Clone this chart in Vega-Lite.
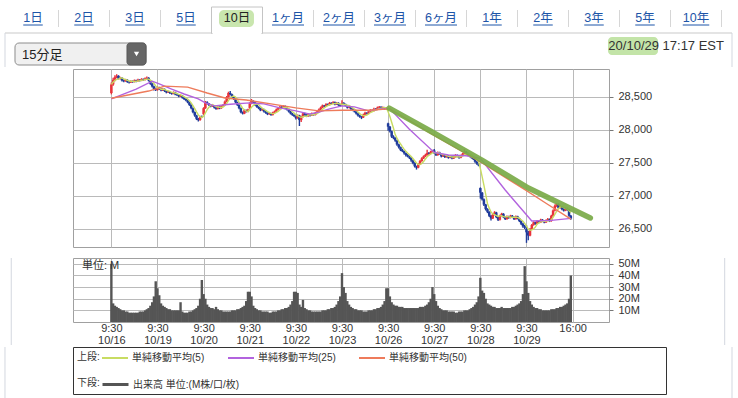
{
"$schema": "https://vega.github.io/schema/vega-lite/v6.json",
"padding": {"left": 3, "top": 0, "right": 5, "bottom": 0},
"background": "white",
"spacing": 0,
"bounds": "full",
"config": {
 "font": "Liberation Sans, Noto Sans CJK JP",
 "view": {"stroke": "#a0a0a0"},
 "axis": {"labelFontSize": 11, "labelColor": "#333333", "gridColor": "#bababa", "tickColor": "#777777", "domain": false}
},
"resolve": {"scale": {"x": "independent", "y": "independent", "color": "independent", "stroke": "independent"}},
"datasets": {
"tabs": [{"tab":"1日","i":0},{"tab":"2日","i":1},{"tab":"3日","i":2},{"tab":"5日","i":3},{"tab":"10日","i":4},{"tab":"1ヶ月","i":5},{"tab":"2ヶ月","i":6},{"tab":"3ヶ月","i":7},{"tab":"6ヶ月","i":8},{"tab":"1年","i":9},{"tab":"2年","i":10},{"tab":"3年","i":11},{"tab":"5年","i":12},{"tab":"10年","i":13}],
"k": [
{"i":0,"o":28560,"h":28720,"l":28540,"c":28690,"v":50},{"i":1,"o":28690,"h":28790,"l":28670,"c":28760,"v":16},{"i":2,"o":28760,"h":28830,"l":28740,"c":28800,"v":14},{"i":3,"o":28800,"h":28845,"l":28785,"c":28820,"v":13},{"i":4,"o":28820,"h":28830,"l":28765,"c":28780,"v":12},{"i":5,"o":28780,"h":28805,"l":28765,"c":28790,"v":11},{"i":6,"o":28790,"h":28800,"l":28735,"c":28750,"v":10},{"i":7,"o":28750,"h":28765,"l":28725,"c":28740,"v":10},{"i":8,"o":28740,"h":28775,"l":28730,"c":28760,"v":9},{"i":9,"o":28760,"h":28770,"l":28715,"c":28730,"v":9},{"i":10,"o":28730,"h":28745,"l":28705,"c":28720,"v":8},{"i":11,"o":28720,"h":28755,"l":28710,"c":28740,"v":8},{"i":12,"o":28740,"h":28750,"l":28715,"c":28730,"v":8},{"i":13,"o":28730,"h":28765,"l":28720,"c":28750,"v":8},{"i":14,"o":28750,"h":28760,"l":28725,"c":28740,"v":8},{"i":15,"o":28740,"h":28775,"l":28730,"c":28760,"v":8},{"i":16,"o":28760,"h":28770,"l":28735,"c":28750,"v":9},{"i":17,"o":28750,"h":28785,"l":28740,"c":28770,"v":9},{"i":18,"o":28770,"h":28780,"l":28745,"c":28760,"v":9},{"i":19,"o":28760,"h":28795,"l":28750,"c":28780,"v":10},{"i":20,"o":28780,"h":28810,"l":28770,"c":28790,"v":11},{"i":21,"o":28790,"h":28800,"l":28735,"c":28750,"v":12},{"i":22,"o":28750,"h":28760,"l":28685,"c":28700,"v":14},{"i":23,"o":28700,"h":28710,"l":28645,"c":28660,"v":17},{"i":24,"o":28660,"h":28670,"l":28600,"c":28620,"v":22},{"i":25,"o":28620,"h":28640,"l":28590,"c":28606,"v":35},
{"i":26,"o":28610,"h":28660,"l":28595,"c":28640,"v":29},{"i":27,"o":28640,"h":28655,"l":28605,"c":28620,"v":23},{"i":28,"o":28620,"h":28635,"l":28585,"c":28600,"v":16},{"i":29,"o":28600,"h":28635,"l":28590,"c":28620,"v":14},{"i":30,"o":28620,"h":28630,"l":28575,"c":28590,"v":13},{"i":31,"o":28590,"h":28600,"l":28555,"c":28570,"v":12},{"i":32,"o":28570,"h":28595,"l":28560,"c":28580,"v":11},{"i":33,"o":28580,"h":28590,"l":28545,"c":28560,"v":11},{"i":34,"o":28560,"h":28575,"l":28535,"c":28550,"v":10},{"i":35,"o":28550,"h":28585,"l":28540,"c":28570,"v":10},{"i":36,"o":28570,"h":28580,"l":28525,"c":28540,"v":10},{"i":37,"o":28540,"h":28555,"l":28515,"c":28530,"v":10},{"i":38,"o":28530,"h":28540,"l":28495,"c":28510,"v":10},{"i":39,"o":28510,"h":28535,"l":28500,"c":28520,"v":17},{"i":40,"o":28520,"h":28530,"l":28475,"c":28490,"v":9},{"i":41,"o":28490,"h":28500,"l":28455,"c":28470,"v":8},{"i":42,"o":28470,"h":28480,"l":28435,"c":28450,"v":8},{"i":43,"o":28450,"h":28460,"l":28405,"c":28420,"v":8},{"i":44,"o":28420,"h":28430,"l":28365,"c":28380,"v":9},{"i":45,"o":28380,"h":28390,"l":28315,"c":28330,"v":9},{"i":46,"o":28330,"h":28340,"l":28255,"c":28270,"v":10},{"i":47,"o":28270,"h":28280,"l":28200,"c":28220,"v":11},{"i":48,"o":28220,"h":28230,"l":28150,"c":28170,"v":12},{"i":49,"o":28170,"h":28180,"l":28130,"c":28150,"v":14},{"i":50,"o":28150,"h":28215,"l":28140,"c":28200,"v":20},{"i":51,"o":28200,"h":28220,"l":28180,"c":28195,"v":36},
{"i":52,"o":28240,"h":28345,"l":28225,"c":28330,"v":24},{"i":53,"o":28330,"h":28440,"l":28320,"c":28420,"v":20},{"i":54,"o":28420,"h":28435,"l":28385,"c":28400,"v":15},{"i":55,"o":28400,"h":28410,"l":28365,"c":28380,"v":13},{"i":56,"o":28380,"h":28390,"l":28345,"c":28360,"v":12},{"i":57,"o":28360,"h":28385,"l":28350,"c":28370,"v":12},{"i":58,"o":28370,"h":28380,"l":28325,"c":28340,"v":11},{"i":59,"o":28340,"h":28350,"l":28305,"c":28320,"v":13},{"i":60,"o":28320,"h":28365,"l":28310,"c":28350,"v":11},{"i":61,"o":28350,"h":28360,"l":28315,"c":28330,"v":10},{"i":62,"o":28330,"h":28375,"l":28320,"c":28360,"v":10},{"i":63,"o":28360,"h":28395,"l":28350,"c":28380,"v":9},{"i":64,"o":28380,"h":28445,"l":28370,"c":28430,"v":9},{"i":65,"o":28430,"h":28515,"l":28420,"c":28500,"v":9},{"i":66,"o":28500,"h":28580,"l":28490,"c":28560,"v":9},{"i":67,"o":28560,"h":28590,"l":28525,"c":28540,"v":9},{"i":68,"o":28540,"h":28550,"l":28485,"c":28500,"v":10},{"i":69,"o":28500,"h":28510,"l":28455,"c":28470,"v":10},{"i":70,"o":28470,"h":28480,"l":28405,"c":28420,"v":10},{"i":71,"o":28420,"h":28430,"l":28365,"c":28380,"v":11},{"i":72,"o":28380,"h":28390,"l":28315,"c":28330,"v":11},{"i":73,"o":28330,"h":28340,"l":28255,"c":28270,"v":12},{"i":74,"o":28270,"h":28280,"l":28235,"c":28250,"v":13},{"i":75,"o":28250,"h":28315,"l":28240,"c":28300,"v":14},{"i":76,"o":28300,"h":28310,"l":28265,"c":28280,"v":18},{"i":77,"o":28280,"h":28320,"l":28270,"c":28309,"v":26},
{"i":78,"o":28330,"h":28420,"l":28320,"c":28400,"v":26},{"i":79,"o":28400,"h":28470,"l":28390,"c":28440,"v":22},{"i":80,"o":28440,"h":28450,"l":28405,"c":28420,"v":14},{"i":81,"o":28420,"h":28430,"l":28365,"c":28380,"v":12},{"i":82,"o":28380,"h":28390,"l":28335,"c":28350,"v":11},{"i":83,"o":28350,"h":28360,"l":28315,"c":28330,"v":10},{"i":84,"o":28330,"h":28340,"l":28285,"c":28300,"v":10},{"i":85,"o":28300,"h":28325,"l":28290,"c":28310,"v":9},{"i":86,"o":28310,"h":28320,"l":28265,"c":28280,"v":9},{"i":87,"o":28280,"h":28290,"l":28245,"c":28260,"v":9},{"i":88,"o":28260,"h":28270,"l":28225,"c":28240,"v":9},{"i":89,"o":28240,"h":28265,"l":28230,"c":28250,"v":8},{"i":90,"o":28250,"h":28260,"l":28215,"c":28230,"v":8},{"i":91,"o":28230,"h":28275,"l":28220,"c":28260,"v":9},{"i":92,"o":28260,"h":28295,"l":28250,"c":28280,"v":9},{"i":93,"o":28280,"h":28325,"l":28270,"c":28310,"v":9},{"i":94,"o":28310,"h":28345,"l":28300,"c":28330,"v":10},{"i":95,"o":28330,"h":28365,"l":28320,"c":28350,"v":10},{"i":96,"o":28350,"h":28360,"l":28325,"c":28340,"v":11},{"i":97,"o":28340,"h":28375,"l":28330,"c":28360,"v":11},{"i":98,"o":28360,"h":28370,"l":28315,"c":28330,"v":12},{"i":99,"o":28330,"h":28340,"l":28295,"c":28310,"v":12},{"i":100,"o":28310,"h":28320,"l":28265,"c":28280,"v":13},{"i":101,"o":28280,"h":28290,"l":28235,"c":28250,"v":15},{"i":102,"o":28250,"h":28260,"l":28215,"c":28230,"v":18},{"i":103,"o":28230,"h":28240,"l":28195,"c":28211,"v":26},
{"i":104,"o":28200,"h":28230,"l":28160,"c":28180,"v":26},{"i":105,"o":28180,"h":28235,"l":28170,"c":28220,"v":25},{"i":106,"o":28220,"h":28230,"l":28060,"c":28150,"v":15},{"i":107,"o":28150,"h":28215,"l":28120,"c":28200,"v":13},{"i":108,"o":28200,"h":28265,"l":28190,"c":28250,"v":19},{"i":109,"o":28250,"h":28260,"l":28215,"c":28230,"v":12},{"i":110,"o":28230,"h":28240,"l":28195,"c":28210,"v":11},{"i":111,"o":28210,"h":28255,"l":28200,"c":28240,"v":10},{"i":112,"o":28240,"h":28250,"l":28205,"c":28220,"v":10},{"i":113,"o":28220,"h":28265,"l":28210,"c":28250,"v":9},{"i":114,"o":28250,"h":28260,"l":28215,"c":28230,"v":9},{"i":115,"o":28230,"h":28275,"l":28220,"c":28260,"v":9},{"i":116,"o":28260,"h":28295,"l":28250,"c":28280,"v":9},{"i":117,"o":28280,"h":28325,"l":28270,"c":28310,"v":9},{"i":118,"o":28310,"h":28355,"l":28300,"c":28340,"v":9},{"i":119,"o":28340,"h":28385,"l":28330,"c":28370,"v":10},{"i":120,"o":28370,"h":28380,"l":28345,"c":28360,"v":10},{"i":121,"o":28360,"h":28405,"l":28350,"c":28390,"v":10},{"i":122,"o":28390,"h":28400,"l":28365,"c":28380,"v":11},{"i":123,"o":28380,"h":28425,"l":28370,"c":28410,"v":11},{"i":124,"o":28410,"h":28420,"l":28385,"c":28400,"v":12},{"i":125,"o":28400,"h":28435,"l":28390,"c":28420,"v":12},{"i":126,"o":28420,"h":28430,"l":28375,"c":28390,"v":13},{"i":127,"o":28390,"h":28425,"l":28380,"c":28410,"v":15},{"i":128,"o":28410,"h":28420,"l":28365,"c":28380,"v":18},{"i":129,"o":28380,"h":28390,"l":28350,"c":28364,"v":22},
{"i":130,"o":28380,"h":28450,"l":28370,"c":28410,"v":42},{"i":131,"o":28410,"h":28420,"l":28375,"c":28390,"v":30},{"i":132,"o":28390,"h":28400,"l":28355,"c":28370,"v":25},{"i":133,"o":28370,"h":28380,"l":28325,"c":28340,"v":18},{"i":134,"o":28340,"h":28365,"l":28330,"c":28350,"v":15},{"i":135,"o":28350,"h":28360,"l":28305,"c":28320,"v":13},{"i":136,"o":28320,"h":28330,"l":28285,"c":28300,"v":12},{"i":137,"o":28300,"h":28310,"l":28265,"c":28280,"v":11},{"i":138,"o":28280,"h":28290,"l":28235,"c":28250,"v":11},{"i":139,"o":28250,"h":28260,"l":28205,"c":28220,"v":10},{"i":140,"o":28220,"h":28230,"l":28185,"c":28200,"v":10},{"i":141,"o":28200,"h":28210,"l":28165,"c":28190,"v":10},{"i":142,"o":28190,"h":28245,"l":28180,"c":28230,"v":9},{"i":143,"o":28230,"h":28275,"l":28220,"c":28260,"v":9},{"i":144,"o":28260,"h":28270,"l":28235,"c":28250,"v":9},{"i":145,"o":28250,"h":28295,"l":28240,"c":28280,"v":10},{"i":146,"o":28280,"h":28315,"l":28270,"c":28300,"v":10},{"i":147,"o":28300,"h":28310,"l":28275,"c":28290,"v":10},{"i":148,"o":28290,"h":28335,"l":28280,"c":28320,"v":11},{"i":149,"o":28320,"h":28330,"l":28295,"c":28310,"v":11},{"i":150,"o":28310,"h":28355,"l":28300,"c":28340,"v":12},{"i":151,"o":28340,"h":28365,"l":28330,"c":28350,"v":12},{"i":152,"o":28350,"h":28360,"l":28315,"c":28330,"v":13},{"i":153,"o":28330,"h":28355,"l":28320,"c":28340,"v":15},{"i":154,"o":28340,"h":28350,"l":28305,"c":28320,"v":18},{"i":155,"o":28320,"h":28345,"l":28310,"c":28336,"v":29},
{"i":156,"o":28100,"h":28110,"l":27990,"c":28050,"v":29},{"i":157,"o":28050,"h":28060,"l":27960,"c":27980,"v":22},{"i":158,"o":27980,"h":27990,"l":27880,"c":27900,"v":17},{"i":159,"o":27900,"h":27920,"l":27860,"c":27880,"v":15},{"i":160,"o":27880,"h":27890,"l":27820,"c":27840,"v":14},{"i":161,"o":27840,"h":27850,"l":27760,"c":27780,"v":14},{"i":162,"o":27780,"h":27790,"l":27720,"c":27740,"v":13},{"i":163,"o":27740,"h":27750,"l":27680,"c":27700,"v":13},{"i":164,"o":27700,"h":27715,"l":27665,"c":27680,"v":13},{"i":165,"o":27680,"h":27690,"l":27630,"c":27650,"v":12},{"i":166,"o":27650,"h":27660,"l":27600,"c":27620,"v":12},{"i":167,"o":27620,"h":27635,"l":27585,"c":27600,"v":12},{"i":168,"o":27600,"h":27615,"l":27560,"c":27580,"v":12},{"i":169,"o":27580,"h":27590,"l":27520,"c":27540,"v":12},{"i":170,"o":27540,"h":27550,"l":27480,"c":27500,"v":12},{"i":171,"o":27500,"h":27510,"l":27430,"c":27450,"v":12},{"i":172,"o":27450,"h":27460,"l":27400,"c":27430,"v":12},{"i":173,"o":27430,"h":27495,"l":27420,"c":27480,"v":12},{"i":174,"o":27480,"h":27545,"l":27470,"c":27530,"v":13},{"i":175,"o":27530,"h":27585,"l":27520,"c":27570,"v":13},{"i":176,"o":27570,"h":27615,"l":27560,"c":27600,"v":13},{"i":177,"o":27600,"h":27640,"l":27590,"c":27620,"v":14},{"i":178,"o":27620,"h":27700,"l":27610,"c":27650,"v":15},{"i":179,"o":27650,"h":27665,"l":27625,"c":27640,"v":17},{"i":180,"o":27640,"h":27685,"l":27630,"c":27670,"v":20},{"i":181,"o":27670,"h":27700,"l":27655,"c":27685,"v":30},
{"i":182,"o":27690,"h":27710,"l":27635,"c":27650,"v":24},{"i":183,"o":27650,"h":27660,"l":27605,"c":27620,"v":18},{"i":184,"o":27620,"h":27675,"l":27610,"c":27660,"v":14},{"i":185,"o":27660,"h":27670,"l":27625,"c":27640,"v":12},{"i":186,"o":27640,"h":27650,"l":27585,"c":27600,"v":11},{"i":187,"o":27600,"h":27635,"l":27590,"c":27620,"v":10},{"i":188,"o":27620,"h":27630,"l":27575,"c":27590,"v":10},{"i":189,"o":27590,"h":27625,"l":27580,"c":27610,"v":10},{"i":190,"o":27610,"h":27620,"l":27565,"c":27580,"v":9},{"i":191,"o":27580,"h":27615,"l":27570,"c":27600,"v":9},{"i":192,"o":27600,"h":27610,"l":27555,"c":27570,"v":9},{"i":193,"o":27570,"h":27605,"l":27560,"c":27590,"v":9},{"i":194,"o":27590,"h":27635,"l":27580,"c":27620,"v":8},{"i":195,"o":27620,"h":27630,"l":27585,"c":27600,"v":8},{"i":196,"o":27600,"h":27610,"l":27565,"c":27580,"v":9},{"i":197,"o":27580,"h":27625,"l":27570,"c":27610,"v":9},{"i":198,"o":27610,"h":27655,"l":27600,"c":27640,"v":9},{"i":199,"o":27640,"h":27710,"l":27630,"c":27670,"v":10},{"i":200,"o":27670,"h":27680,"l":27635,"c":27650,"v":10},{"i":201,"o":27650,"h":27660,"l":27605,"c":27620,"v":10},{"i":202,"o":27620,"h":27630,"l":27585,"c":27600,"v":11},{"i":203,"o":27600,"h":27610,"l":27565,"c":27580,"v":12},{"i":204,"o":27580,"h":27590,"l":27545,"c":27560,"v":13},{"i":205,"o":27560,"h":27570,"l":27505,"c":27520,"v":15},{"i":206,"o":27520,"h":27530,"l":27475,"c":27490,"v":17},{"i":207,"o":27490,"h":27500,"l":27450,"c":27463,"v":22},
{"i":208,"o":27120,"h":27130,"l":26960,"c":27050,"v":38},{"i":209,"o":27050,"h":27060,"l":26930,"c":26950,"v":27},{"i":210,"o":26950,"h":26960,"l":26850,"c":26870,"v":25},{"i":211,"o":26870,"h":26880,"l":26780,"c":26800,"v":20},{"i":212,"o":26800,"h":26815,"l":26740,"c":26760,"v":16},{"i":213,"o":26760,"h":26770,"l":26680,"c":26700,"v":15},{"i":214,"o":26700,"h":26710,"l":26630,"c":26660,"v":14},{"i":215,"o":26660,"h":26735,"l":26650,"c":26720,"v":13},{"i":216,"o":26720,"h":26770,"l":26705,"c":26750,"v":13},{"i":217,"o":26750,"h":26760,"l":26665,"c":26680,"v":12},{"i":218,"o":26680,"h":26690,"l":26620,"c":26640,"v":12},{"i":219,"o":26640,"h":26715,"l":26630,"c":26700,"v":12},{"i":220,"o":26700,"h":26745,"l":26690,"c":26730,"v":13},{"i":221,"o":26730,"h":26740,"l":26665,"c":26680,"v":12},{"i":222,"o":26680,"h":26690,"l":26635,"c":26650,"v":12},{"i":223,"o":26650,"h":26705,"l":26640,"c":26690,"v":12},{"i":224,"o":26690,"h":26700,"l":26655,"c":26670,"v":12},{"i":225,"o":26670,"h":26715,"l":26660,"c":26700,"v":12},{"i":226,"o":26700,"h":26710,"l":26665,"c":26680,"v":13},{"i":227,"o":26680,"h":26690,"l":26635,"c":26650,"v":13},{"i":228,"o":26650,"h":26705,"l":26640,"c":26690,"v":14},{"i":229,"o":26690,"h":26700,"l":26645,"c":26660,"v":15},{"i":230,"o":26660,"h":26670,"l":26605,"c":26620,"v":16},{"i":231,"o":26620,"h":26630,"l":26560,"c":26580,"v":18},{"i":232,"o":26580,"h":26590,"l":26520,"c":26540,"v":24},{"i":233,"o":26540,"h":26560,"l":26500,"c":26520,"v":48},
{"i":234,"o":26500,"h":26560,"l":26290,"c":26450,"v":35},{"i":235,"o":26450,"h":26470,"l":26330,"c":26400,"v":25},{"i":236,"o":26400,"h":26515,"l":26390,"c":26500,"v":18},{"i":237,"o":26500,"h":26575,"l":26490,"c":26560,"v":15},{"i":238,"o":26560,"h":26615,"l":26550,"c":26600,"v":13},{"i":239,"o":26600,"h":26610,"l":26565,"c":26580,"v":12},{"i":240,"o":26580,"h":26635,"l":26570,"c":26620,"v":12},{"i":241,"o":26620,"h":26630,"l":26585,"c":26600,"v":11},{"i":242,"o":26600,"h":26655,"l":26590,"c":26640,"v":11},{"i":243,"o":26640,"h":26650,"l":26605,"c":26620,"v":10},{"i":244,"o":26620,"h":26630,"l":26585,"c":26600,"v":10},{"i":245,"o":26600,"h":26645,"l":26590,"c":26630,"v":10},{"i":246,"o":26630,"h":26665,"l":26620,"c":26650,"v":10},{"i":247,"o":26650,"h":26660,"l":26605,"c":26620,"v":10},{"i":248,"o":26620,"h":26715,"l":26610,"c":26700,"v":11},{"i":249,"o":26700,"h":26795,"l":26690,"c":26780,"v":11},{"i":250,"o":26780,"h":26870,"l":26770,"c":26850,"v":11},{"i":251,"o":26850,"h":26895,"l":26835,"c":26880,"v":12},{"i":252,"o":26880,"h":26890,"l":26805,"c":26820,"v":12},{"i":253,"o":26820,"h":26855,"l":26810,"c":26840,"v":13},{"i":254,"o":26840,"h":26850,"l":26785,"c":26800,"v":13},{"i":255,"o":26800,"h":26815,"l":26765,"c":26780,"v":14},{"i":256,"o":26780,"h":26825,"l":26770,"c":26810,"v":15},{"i":257,"o":26810,"h":26820,"l":26775,"c":26790,"v":16},{"i":258,"o":26790,"h":26800,"l":26685,"c":26700,"v":20},{"i":259,"o":26700,"h":26710,"l":26640,"c":26659,"v":40}
],
"ma": [
{"s":"単純移動平均(25)","i":0,"v":28470},{"s":"単純移動平均(25)","i":14,"v":28620},{"s":"単純移動平均(25)","i":23,"v":28740},{"s":"単純移動平均(25)","i":27,"v":28700},{"s":"単純移動平均(25)","i":34,"v":28620},{"s":"単純移動平均(25)","i":41,"v":28545},{"s":"単純移動平均(25)","i":49,"v":28470},{"s":"単純移動平均(25)","i":53,"v":28410},{"s":"単純移動平均(25)","i":58,"v":28365},{"s":"単純移動平均(25)","i":67,"v":28390},{"s":"単純移動平均(25)","i":78,"v":28410},{"s":"単純移動平均(25)","i":86,"v":28395},{"s":"単純移動平均(25)","i":95,"v":28335},{"s":"単純移動平均(25)","i":104,"v":28290},{"s":"単純移動平均(25)","i":112,"v":28240},{"s":"単純移動平均(25)","i":117,"v":28270},{"s":"単純移動平均(25)","i":123,"v":28320},{"s":"単純移動平均(25)","i":130,"v":28365},{"s":"単純移動平均(25)","i":137,"v":28350},{"s":"単純移動平均(25)","i":145,"v":28290},{"s":"単純移動平均(25)","i":152,"v":28320},{"s":"単純移動平均(25)","i":157,"v":28320},{"s":"単純移動平均(25)","i":168,"v":28010},{"s":"単純移動平均(25)","i":182,"v":27660},{"s":"単純移動平均(25)","i":190,"v":27620},{"s":"単純移動平均(25)","i":200,"v":27610},{"s":"単純移動平均(25)","i":208,"v":27570},{"s":"単純移動平均(25)","i":222,"v":27090},{"s":"単純移動平均(25)","i":237,"v":26620},{"s":"単純移動平均(25)","i":248,"v":26630},{"s":"単純移動平均(25)","i":259,"v":26660},
{"s":"単純移動平均(50)","i":0,"v":28480},{"s":"単純移動平均(50)","i":21,"v":28590},{"s":"単純移動平均(50)","i":30,"v":28665},{"s":"単純移動平均(50)","i":43,"v":28650},{"s":"単純移動平均(50)","i":54,"v":28560},{"s":"単純移動平均(50)","i":64,"v":28485},{"s":"単純移動平均(50)","i":76,"v":28455},{"s":"単純移動平均(50)","i":90,"v":28395},{"s":"単純移動平均(50)","i":104,"v":28335},{"s":"単純移動平均(50)","i":117,"v":28290},{"s":"単純移動平均(50)","i":130,"v":28300},{"s":"単純移動平均(50)","i":145,"v":28300},{"s":"単純移動平均(50)","i":157,"v":28320},{"s":"単純移動平均(50)","i":180,"v":27950},{"s":"単純移動平均(50)","i":209,"v":27500},{"s":"単純移動平均(50)","i":234,"v":27080},{"s":"単純移動平均(50)","i":245,"v":26890},{"s":"単純移動平均(50)","i":259,"v":26650}
],
"trend": [{"i":156.6,"v":28330},{"i":179.8,"v":27985},{"i":209.1,"v":27540},{"i":235.1,"v":27120},{"i":270,"v":26667}]
},
"vconcat": [
{
 "width": 536, "height": 68,
 "view": {"stroke": null},
 "layer": [
  {"data": {"values": [{}]}, "mark": {"type": "rule", "color": "#c9c9c9"},
   "encoding": {"x": {"datum": -0.549, "type": "quantitative", "scale": {"domain": [0.7843, 11.2941], "nice": false, "zero": false}, "axis": null}, "x2": {"datum": 13.706}, "y": {"datum": 33, "type": "quantitative", "scale": {"domain": [0, 68], "reverse": true, "nice": false, "zero": false}, "axis": null}}},
  {"data": {"values": [{}]}, "mark": {"type": "rule", "color": "#d3d7df"},
   "encoding": {"x": {"datum": -0.549, "type": "quantitative", "axis": null}, "y": {"datum": 33, "type": "quantitative", "axis": null}, "y2": {"datum": 67}}},
  {"data": {"values": [{}]}, "mark": {"type": "rule", "color": "#d3d7df"},
   "encoding": {"x": {"datum": 13.706, "type": "quantitative", "axis": null}, "y": {"datum": 33, "type": "quantitative", "axis": null}, "y2": {"datum": 67}}},
  {"data": {"name": "tabs"}, "transform": [{"filter": "datum.tab != '5日' && datum.tab != '10日'"}], "mark": {"type": "rule", "color": "#d6d6d6", "xOffset": 25.5},
   "encoding": {"x": {"field": "i", "type": "quantitative", "axis": null}, "y": {"datum": 10, "type": "quantitative", "axis": null}, "y2": {"datum": 27}}},
  {"data": {"values": [{}]}, "mark": {"type": "rect", "fill": "#ffffff", "stroke": "#c4c4c4", "strokeWidth": 1},
   "encoding": {"x": {"datum": 3.5, "type": "quantitative", "axis": null}, "x2": {"datum": 4.5}, "y": {"datum": 7, "type": "quantitative", "axis": null}, "y2": {"datum": 33.5}}},
  {"data": {"values": [{}]}, "mark": {"type": "rule", "color": "#ffffff", "strokeWidth": 2, "xOffset": 1, "x2Offset": -1},
   "encoding": {"x": {"datum": 3.5, "type": "quantitative", "axis": null}, "x2": {"datum": 4.5}, "y": {"datum": 33.5, "type": "quantitative", "axis": null}}},
  {"data": {"values": [{}]}, "mark": {"type": "rect", "fill": "#bfe2a0", "opacity": 0.85, "cornerRadius": 5},
   "encoding": {"x": {"datum": 3.647, "type": "quantitative", "axis": null}, "x2": {"datum": 4.333}, "y": {"datum": 10, "type": "quantitative", "axis": null}, "y2": {"datum": 27}}},
  {"data": {"name": "tabs"}, "mark": {"type": "text", "fontSize": 12.5, "baseline": "middle"},
   "encoding": {"x": {"field": "i", "type": "quantitative", "axis": null}, "y": {"datum": 18, "type": "quantitative", "axis": null}, "text": {"field": "tab"},
    "color": {"condition": {"test": "datum.tab == '10日'", "value": "#222222"}, "value": "#1d55a8"}}},
  {"data": {"name": "tabs"}, "transform": [{"filter": "datum.tab != '10日'"}],
   "mark": {"type": "rule", "color": "#1d55a8", "strokeWidth": 1,
    "xOffset": {"expr": "-((indexof(datum.tab,'0') == 1 ? 14 : 7) + (length(datum.tab) - (indexof(datum.tab,'0') == 1 ? 2 : 1)) * 12.5) / 2"},
    "x2Offset": {"expr": "((indexof(datum.tab,'0') == 1 ? 14 : 7) + (length(datum.tab) - (indexof(datum.tab,'0') == 1 ? 2 : 1)) * 12.5) / 2"}},
   "encoding": {"x": {"field": "i", "type": "quantitative", "axis": null}, "x2": {"field": "i"}, "y": {"datum": 25, "type": "quantitative", "axis": null}}},
  {"data": {"values": [{}]}, "mark": {"type": "rect", "fill": "#f0f0f0", "stroke": "#8c8c8c", "cornerRadius": 4},
   "encoding": {"x": {"datum": -0.353, "type": "quantitative", "axis": null}, "x2": {"datum": 2.216}, "y": {"datum": 43, "type": "quantitative", "axis": null}, "y2": {"datum": 65}}},
  {"data": {"values": [{}]}, "mark": {"type": "rect", "fill": "#666666", "stroke": "#5a5a5a", "cornerRadius": 3},
   "encoding": {"x": {"datum": 1.843, "type": "quantitative", "axis": null}, "x2": {"datum": 2.216}, "y": {"datum": 43, "type": "quantitative", "axis": null}, "y2": {"datum": 65}}},
  {"data": {"values": [{}]}, "mark": {"type": "point", "shape": "triangle-down", "filled": true, "fill": "#ffffff", "size": 28, "opacity": 1},
   "encoding": {"x": {"datum": 2.03, "type": "quantitative", "axis": null}, "y": {"datum": 54, "type": "quantitative", "axis": null}}},
  {"data": {"values": [{"t": "15分足"}]}, "mark": {"type": "text", "align": "left", "baseline": "middle", "fontSize": 13, "color": "#222222"},
   "encoding": {"x": {"datum": -0.216, "type": "quantitative", "axis": null}, "y": {"datum": 54.5, "type": "quantitative", "axis": null}, "text": {"field": "t"}}},
  {"data": {"values": [{}]}, "mark": {"type": "rect", "fill": "#c3e4a8", "cornerRadius": 4},
   "encoding": {"x": {"datum": 11.274, "type": "quantitative", "axis": null}, "x2": {"datum": 12.255}, "y": {"datum": 37, "type": "quantitative", "axis": null}, "y2": {"datum": 55}}},
  {"data": {"values": [{"t": "20/10/29 17:17 EST"}]}, "mark": {"type": "text", "align": "right", "baseline": "middle", "fontSize": 13, "color": "#333333"},
   "encoding": {"x": {"datum": 13.549, "type": "quantitative", "axis": null}, "y": {"datum": 46, "type": "quantitative", "axis": null}, "text": {"field": "t"}}}
 ]
},
{
 "width": 536, "height": 178,
 "encoding": {"x": {"field": "i", "type": "quantitative", "scale": {"domain": [-18.81, 277.7], "nice": false, "zero": false},
   "axis": {"values": [0,26,52,78,104,130,156,182,208,234,260], "tickCount": 20, "grid": true, "labels": false, "domain": false, "ticks": true, "tickColor": "transparent", "tickSize": 9, "title": null}}},
 "layer": [
  {"data": {"name": "k"}, "mark": {"type": "rule", "strokeWidth": 1.4},
   "encoding": {"y": {"field": "l", "type": "quantitative", "scale": {"domain": [26227, 28924], "nice": false, "zero": false},
      "axis": {"orient": "right", "values": [26500,27000,27500,28000,28500], "tickCount": 10, "labelExpr": "format(datum.value, ',.0f')", "grid": true, "domain": false, "tickSize": 4, "labelPadding": 5, "labelOverlap": false, "title": null}},
    "y2": {"field": "h"},
    "color": {"condition": {"test": "datum.c >= datum.o", "value": "#e8333b"}, "value": "#1f3b9b"}}},
  {"data": {"name": "k"}, "mark": {"type": "bar", "width": 2.5},
   "encoding": {"y": {"field": "o", "type": "quantitative"}, "y2": {"field": "c"},
    "color": {"condition": {"test": "datum.c >= datum.o", "value": "#e8333b"}, "value": "#1f3b9b"}}},
  {"data": {"name": "k"}, "transform": [{"window": [{"op": "mean", "field": "c", "as": "ma5"}], "sort": [{"field": "i"}], "frame": [-4, 0]}],
   "mark": {"type": "line", "strokeWidth": 1.4},
   "encoding": {"y": {"field": "ma5", "type": "quantitative"},
    "color": {"datum": "単純移動平均(5)", "type": "nominal", "scale": {"domain": ["単純移動平均(5)","単純移動平均(25)","単純移動平均(50)"], "range": ["#c8dc62","#b263de","#ee7b5b"]}, "legend": null}}},
  {"data": {"name": "ma"}, "mark": {"type": "line", "strokeWidth": 1.4},
   "encoding": {"y": {"field": "v", "type": "quantitative"}, "color": {"field": "s", "type": "nominal", "legend": null}}},
  {"data": {"name": "trend"}, "mark": {"type": "line", "strokeWidth": 5.5, "color": "#79aa48", "opacity": 0.92, "strokeCap": "round"},
   "encoding": {"y": {"field": "v", "type": "quantitative"}}},
  {"data": {"values": [{}]}, "mark": {"type": "rule", "color": "#d3d7df", "y2Offset": 9},
   "encoding": {"x": {"datum": -56.43, "type": "quantitative"}, "y": {"datum": 28924, "type": "quantitative"}, "y2": {"datum": 26227}}},
  {"data": {"values": [{}]}, "mark": {"type": "rule", "color": "#d3d7df", "y2Offset": 9},
   "encoding": {"x": {"datum": 345.74, "type": "quantitative"}, "y": {"datum": 28924, "type": "quantitative"}, "y2": {"datum": 26227}}}
 ]
},
{
 "width": 536, "height": 64,
 "layer": [
  {"data": {"name": "k"}, "mark": {"type": "bar", "width": 2.4, "color": "#555555"},
   "encoding": {
    "x": {"field": "i", "type": "quantitative", "scale": {"domain": [-18.81, 277.7], "nice": false, "zero": false},
     "axis": {"values": [0,26,52,78,104,130,156,182,208,234,260], "tickCount": 20, "grid": true, "ticks": false, "tickSize": 0, "domain": false, "labelPadding": 0, "labelLineHeight": 12, "labelFlush": false, "labelOverlap": false, "title": null,
      "labelExpr": "datum.value == 260 ? '16:00' : ['9:30', ['10/16','10/19','10/20','10/21','10/22','10/23','10/26','10/27','10/28','10/29'][round(datum.value/26)]]"}},
    "y": {"field": "v", "type": "quantitative", "scale": {"domain": [0, 55], "nice": false, "zero": false},
     "axis": {"orient": "right", "values": [10,20,30,40,50], "tickCount": 10, "labelExpr": "datum.value + 'M'", "grid": true, "domain": false, "tickSize": 4, "labelPadding": 5, "labelOverlap": false, "title": null}}}},
  {"data": {"values": [{"t": "単位: M"}]}, "mark": {"type": "text", "align": "left", "baseline": "middle", "fontSize": 11, "color": "#333333"},
   "encoding": {"x": {"datum": -16.6, "type": "quantitative"}, "y": {"datum": 48, "type": "quantitative"}, "text": {"field": "t"}}},
  {"data": {"values": [{}]}, "mark": {"type": "rule", "color": "#d3d7df", "y2Offset": 23},
   "encoding": {"x": {"datum": -56.43, "type": "quantitative"}, "y": {"datum": 55, "type": "quantitative"}, "y2": {"datum": 0}}},
  {"data": {"values": [{}]}, "mark": {"type": "rule", "color": "#d3d7df", "y2Offset": 23},
   "encoding": {"x": {"datum": 345.74, "type": "quantitative"}, "y": {"datum": 55, "type": "quantitative"}, "y2": {"datum": 0}}}
 ]
},
{
 "width": 593, "height": 47,
 "view": {"stroke": "#333333"},
 "layer": [
  {"data": {"values": [{"s": "単純移動平均(5)"}, {"s": "単純移動平均(25)"}, {"s": "単純移動平均(50)"}]},
   "mark": {"type": "line", "strokeWidth": 2},
   "encoding": {"color": {"field": "s", "type": "nominal", "sort": null, "scale": {"domain": ["単純移動平均(5)","単純移動平均(25)","単純移動平均(50)"], "range": ["#c8dc62","#b263de","#ee7b5b"]},
    "legend": {"orient": "none", "legendX": 4, "legendY": 5, "direction": "horizontal", "title": "上段:", "titleOrient": "left", "titleAnchor": "start", "titleBaseline": "top", "titleFontSize": 10, "titleFontWeight": "normal", "titleColor": "#333333", "titlePadding": 9,
     "symbolType": "M-2.6,0H2.6", "symbolSize": 100, "symbolStrokeWidth": 2, "labelFontSize": 10, "labelColor": "#333333", "labelOffset": 11, "columnPadding": 19, "labelLimit": 400, "padding": 0, "gridAlign": "none"}}}},
  {"data": {"values": [{"s": "出来高 単位:(M株/口/枚)"}]},
   "mark": {"type": "line", "strokeWidth": 3},
   "encoding": {"stroke": {"field": "s", "type": "nominal", "scale": {"range": ["#555555"]},
    "legend": {"orient": "none", "legendX": 4, "legendY": 31, "direction": "horizontal", "title": "下段:", "titleOrient": "left", "titleAnchor": "start", "titleBaseline": "top", "titleFontSize": 10, "titleFontWeight": "normal", "titleColor": "#333333", "titlePadding": 9,
     "symbolType": "M-2.6,0H2.6", "symbolSize": 100, "symbolStrokeWidth": 3, "labelFontSize": 10, "labelColor": "#333333", "labelOffset": 11, "labelLimit": 400, "padding": 0}}}},
  {"data": {"values": [{}]}, "mark": {"type": "rule", "color": "#d3d7df", "y2Offset": 5},
   "encoding": {"x": {"datum": -0.1147, "type": "quantitative", "scale": {"domain": [0, 1], "nice": false, "zero": false}, "axis": null}, "y": {"datum": 1, "type": "quantitative", "scale": {"domain": [0, 1], "nice": false, "zero": false}, "axis": null}, "y2": {"datum": 0}}},
  {"data": {"values": [{}]}, "mark": {"type": "rule", "color": "#d3d7df", "y2Offset": 5},
   "encoding": {"x": {"datum": 1.1113, "type": "quantitative", "axis": null}, "y": {"datum": 1, "type": "quantitative", "axis": null}, "y2": {"datum": 0}}}
 ]
}
]
}
